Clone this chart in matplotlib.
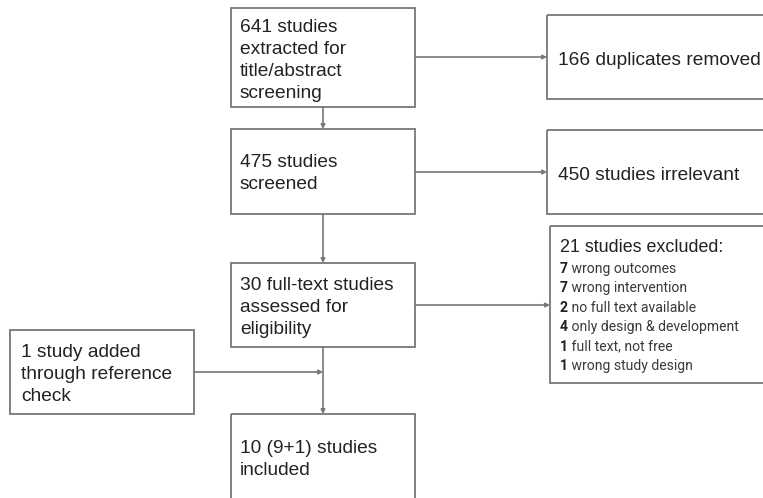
import matplotlib.pyplot as plt
import matplotlib.patches as mpatches

W, H = 763, 498

# flow counts
n_extracted = 641
n_duplicates = 166
n_screened = 475
n_irrelevant = 450
n_fulltext = 30
n_excluded = 21
n_added = 1
n_included = 10

excl_counts = [7, 7, 2, 4, 1, 1]
excl_reasons = ['wrong outcomes', 'wrong intervention', 'no full text available',
                'only design & development', 'full text, not free',
                'wrong study design']

main_font = 'Liberation Sans'
list_font = 'Roboto'
txt_color = '#222222'
edge_color = '#777777'
fs_main = 13.8
fs_title = 12.9
fs_list = 10.1

fig = plt.figure(figsize=(W / 100, H / 100), dpi=100)
ax = fig.add_axes([0, 0, 1, 1])
ax.set_xlim(0, W)
ax.set_ylim(H, 0)
ax.axis('off')


def box(x0, y0, x1, y1):
    r = mpatches.Rectangle((x0, y0), x1 - x0, y1 - y0, fill=False,
                           edgecolor=edge_color, linewidth=1.3)
    ax.add_patch(r)


def lines(x, y0, txts, step=22, fs=fs_main):
    for i, t in enumerate(txts):
        ax.text(x, y0 + i * step, t, fontsize=fs, family=main_font,
                color=txt_color, va='baseline', ha='left')


def arrow(x0, y0, x1, y1):
    ax.annotate('', xy=(x1, y1), xytext=(x0, y0),
                arrowprops=dict(arrowstyle='-|>', color=edge_color, lw=1.2,
                                mutation_scale=6, shrinkA=0, shrinkB=0))


# main column boxes
box(231, 8, 415, 107)
lines(240, 32, [f'{n_extracted} studies', 'extracted for',
                'title/abstract', 'screening'])
box(231, 129, 415, 214)
lines(240, 167, [f'{n_screened} studies', 'screened'])
box(231, 263, 415, 347)
lines(240, 290, [f'{n_fulltext} full-text studies', 'assessed for',
                 'eligibility'])
box(231, 414, 415, 510)
lines(240, 453, [f'{n_included} ({n_included - n_added}+{n_added}) studies',
                 'included'])

# side boxes
box(10, 330, 194, 414)
lines(21, 357, [f'{n_added} study added', 'through reference', 'check'])
box(547, 15, 775, 99)
lines(558, 65, [f'{n_duplicates} duplicates removed'])
box(547, 130, 775, 214)
lines(558, 180, [f'{n_irrelevant} studies irrelevant'])
box(550, 226, 775, 383)
lines(560, 252, [f'{n_excluded} studies excluded:'], fs=fs_title)

for i, (c, r) in enumerate(zip(excl_counts, excl_reasons)):
    y = 273 + i * 19.4
    t = ax.text(560, y, str(c), fontsize=fs_list, family=list_font,
                weight='bold', color=txt_color, va='baseline')
    ax.annotate(' ' + r, xy=(1, 0), xycoords=t, fontsize=fs_list,
                family=list_font, color='#3a3a3a', va='bottom')

# connectors
arrow(323, 107, 323, 129)
arrow(323, 214, 323, 263)
arrow(323, 347, 323, 414)
arrow(415, 57, 547, 57)
arrow(415, 172, 547, 172)
arrow(415, 305, 550, 305)
arrow(194, 372, 323, 372)

fig.savefig('out.png', dpi=100)
